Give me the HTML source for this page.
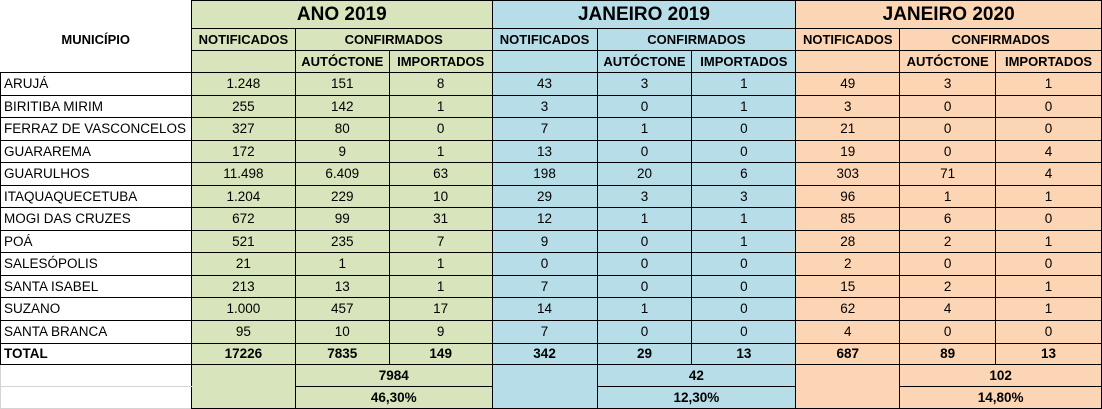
<!DOCTYPE html>
<html><head><meta charset="utf-8"><style>
body{margin:0;background:#fff;width:1102px;height:408px;overflow:hidden}
table{border-collapse:collapse;table-layout:fixed;font-family:"Liberation Sans",Arial,sans-serif;font-size:13.5px;color:#000;position:absolute;left:0;top:0}
td{border:1px solid #000;padding:0;text-align:center;white-space:nowrap;overflow:hidden;line-height:1}
.g{background:#d8e4bc}.b{background:#b7dee8}.o{background:#fcd5b4}
.h{font-weight:bold;font-size:19px}
.s{font-weight:bold;font-size:13px}
.l{text-align:left;padding-left:3px}
.n{border:none}
.gr{border:1px solid #d4d4d4;border-right:1px solid #000}
tr.t td{font-weight:bold}
</style></head><body>
<table>
<colgroup><col style="width:191px"><col style="width:104px"><col style="width:94px"><col style="width:103px"><col style="width:105px"><col style="width:95px"><col style="width:104px"><col style="width:104px"><col style="width:96px"><col style="width:106px"></colgroup>
<tr style="height:28px"><td class="n"></td><td colspan="3" class="g h">ANO 2019</td><td colspan="3" class="b h">JANEIRO 2019</td><td colspan="3" class="o h">JANEIRO 2020</td></tr>
<tr style="height:22px"><td class="s n">MUNICÍPIO</td><td class="g s">NOTIFICADOS</td><td colspan="2" class="g s">CONFIRMADOS</td><td class="b s">NOTIFICADOS</td><td colspan="2" class="b s">CONFIRMADOS</td><td class="o s">NOTIFICADOS</td><td colspan="2" class="o s">CONFIRMADOS</td></tr>
<tr style="height:22px"><td class="n"></td><td class="g"></td><td class="g s">AUTÓCTONE</td><td class="g s">IMPORTADOS</td><td class="b"></td><td class="b s">AUTÓCTONE</td><td class="b s">IMPORTADOS</td><td class="o"></td><td class="o s">AUTÓCTONE</td><td class="o s">IMPORTADOS</td></tr>
<tr style="height:23px"><td class="l">ARUJÁ</td><td class="g">1.248</td><td class="g">151</td><td class="g">8</td><td class="b">43</td><td class="b">3</td><td class="b">1</td><td class="o">49</td><td class="o">3</td><td class="o">1</td></tr>
<tr style="height:22px"><td class="l">BIRITIBA MIRIM</td><td class="g">255</td><td class="g">142</td><td class="g">1</td><td class="b">3</td><td class="b">0</td><td class="b">1</td><td class="o">3</td><td class="o">0</td><td class="o">0</td></tr>
<tr style="height:23px"><td class="l">FERRAZ DE VASCONCELOS</td><td class="g">327</td><td class="g">80</td><td class="g">0</td><td class="b">7</td><td class="b">1</td><td class="b">0</td><td class="o">21</td><td class="o">0</td><td class="o">0</td></tr>
<tr style="height:22px"><td class="l">GUARAREMA</td><td class="g">172</td><td class="g">9</td><td class="g">1</td><td class="b">13</td><td class="b">0</td><td class="b">0</td><td class="o">19</td><td class="o">0</td><td class="o">4</td></tr>
<tr style="height:23px"><td class="l">GUARULHOS</td><td class="g">11.498</td><td class="g">6.409</td><td class="g">63</td><td class="b">198</td><td class="b">20</td><td class="b">6</td><td class="o">303</td><td class="o">71</td><td class="o">4</td></tr>
<tr style="height:22px"><td class="l">ITAQUAQUECETUBA</td><td class="g">1.204</td><td class="g">229</td><td class="g">10</td><td class="b">29</td><td class="b">3</td><td class="b">3</td><td class="o">96</td><td class="o">1</td><td class="o">1</td></tr>
<tr style="height:23px"><td class="l">MOGI DAS CRUZES</td><td class="g">672</td><td class="g">99</td><td class="g">31</td><td class="b">12</td><td class="b">1</td><td class="b">1</td><td class="o">85</td><td class="o">6</td><td class="o">0</td></tr>
<tr style="height:22px"><td class="l">POÁ</td><td class="g">521</td><td class="g">235</td><td class="g">7</td><td class="b">9</td><td class="b">0</td><td class="b">1</td><td class="o">28</td><td class="o">2</td><td class="o">1</td></tr>
<tr style="height:23px"><td class="l">SALESÓPOLIS</td><td class="g">21</td><td class="g">1</td><td class="g">1</td><td class="b">0</td><td class="b">0</td><td class="b">0</td><td class="o">2</td><td class="o">0</td><td class="o">0</td></tr>
<tr style="height:22px"><td class="l">SANTA ISABEL</td><td class="g">213</td><td class="g">13</td><td class="g">1</td><td class="b">7</td><td class="b">0</td><td class="b">0</td><td class="o">15</td><td class="o">2</td><td class="o">1</td></tr>
<tr style="height:23px"><td class="l">SUZANO</td><td class="g">1.000</td><td class="g">457</td><td class="g">17</td><td class="b">14</td><td class="b">1</td><td class="b">0</td><td class="o">62</td><td class="o">4</td><td class="o">1</td></tr>
<tr style="height:23px"><td class="l">SANTA BRANCA</td><td class="g">95</td><td class="g">10</td><td class="g">9</td><td class="b">7</td><td class="b">0</td><td class="b">0</td><td class="o">4</td><td class="o">0</td><td class="o">0</td></tr>
<tr class="t" style="height:21px"><td class="l">TOTAL</td><td class="g">17226</td><td class="g">7835</td><td class="g">149</td><td class="b">342</td><td class="b">29</td><td class="b">13</td><td class="o">687</td><td class="o">89</td><td class="o">13</td></tr>
<tr class="t" style="height:22px"><td class="gr"></td><td rowspan="2" class="g"></td><td colspan="2" class="g">7984</td><td rowspan="2" class="b"></td><td colspan="2" class="b">42</td><td rowspan="2" class="o"></td><td colspan="2" class="o">102</td></tr>
<tr class="t" style="height:22px"><td class="gr"></td><td colspan="2" class="g">46,30%</td><td colspan="2" class="b">12,30%</td><td colspan="2" class="o">14,80%</td></tr>
</table>
</body></html>
